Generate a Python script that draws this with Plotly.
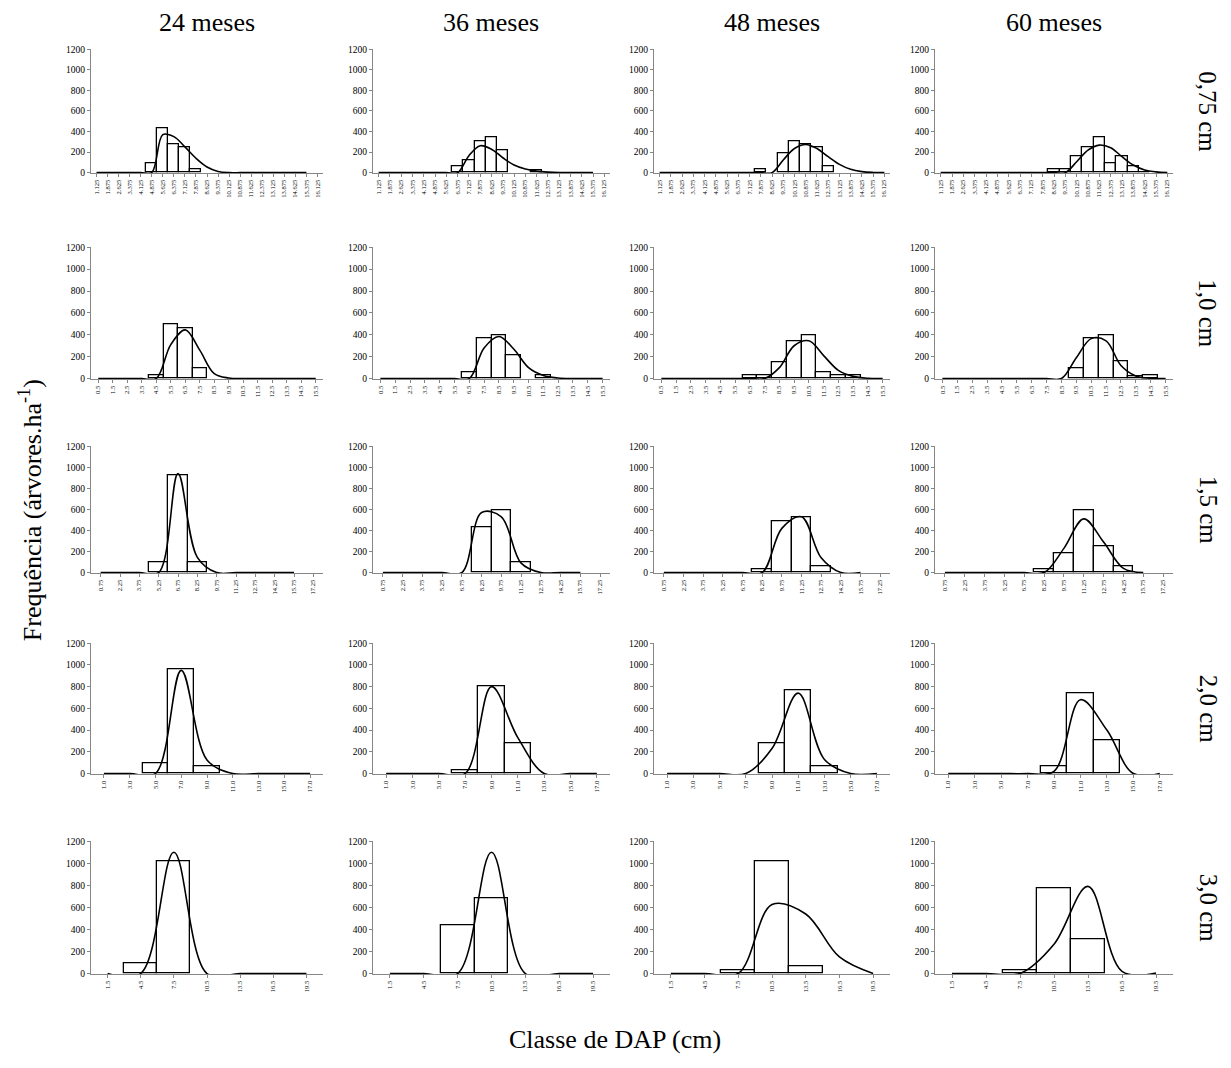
import plotly.graph_objects as go

W, H = 1215, 1052   # figure size (page body has an 8px margin)
OFF = 8
YC, YS = 511, 1.0095  # small vertical stretch correction about the page centre

FONT = "Liberation Serif, Times New Roman, serif"
N = None

months = ["24 meses", "36 meses", "48 meses", "60 meses"]
spacings = ["0,75 cm", "1,0 cm", "1,5 cm", "2,0 cm", "3,0 cm"]

# ---- category labels per row ----
cats_075 = ["1.125", "1.875", "2.625", "3.375", "4.125", "4.875", "5.625", "6.375", "7.125",
            "7.875", "8.625", "9.375", "10.125", "10.875", "11.625", "12.375", "13.125",
            "13.875", "14.625", "15.375", "16.125"]
cats_10 = ["0.5", "1.5", "2.5", "3.5", "4.5", "5.5", "6.5", "7.5", "8.5", "9.5", "10.5",
           "11.5", "12.5", "13.5", "14.5", "15.5"]
cats_15 = ["0.75", "2.25", "3.75", "5.25", "6.75", "8.25", "9.75", "11.25", "12.75",
           "14.25", "15.75", "17.25"]
cats_20 = ["1.0", "3.0", "5.0", "7.0", "9.0", "11.0", "13.0", "15.0", "17.0"]
cats_30 = ["1.5", "4.5", "7.5", "10.5", "13.5", "16.5", "19.5"]

# ---- observed frequencies (bars) and fitted curves ----
# 0,75 cm
obs_075_24 = [N, N, N, N, N, 95, 430, 280, 245, 30, N, N, N, N, N, N, N, N, N, N, N]
fit_075_24 = [0, 0, 0, 0, 0, 0, 370, 350, 250, 140, 55, 12, 0, 0, 0, 0, 0, 0, 0, 0, N]
obs_075_36 = [N, N, N, N, N, N, N, 60, 120, 305, 340, 215, N, N, 25, N, N, N, N, N, N]
fit_075_36 = [0, 0, 0, 0, 0, 0, 0, 0, 165, 262, 228, 145, 74, 35, 15, 5, 0, 0, 0, 0, N]
obs_075_48 = [N, N, N, N, N, N, N, N, N, 30, N, 185, 310, 275, 250, 62, N, N, N, N, N]
fit_075_48 = [0, 0, 0, 0, 0, 0, 0, 0, 0, 0, 0, 123, 235, 274, 235, 155, 80, 32, 10, 2, 0]
obs_075_60 = [N, N, N, N, N, N, N, N, N, N, 30, 30, 155, 245, 340, 90, 155, 60, 8, N, N]
fit_075_60 = [0, 0, 0, 0, 0, 0, 0, 0, 0, 0, 0, 0, 106, 219, 268, 242, 155, 74, 26, 7, 0]
# 1,0 cm
obs_10_24 = [N, N, N, N, 30, 495, 460, 92, N, N, N, N, N, N, N, N]
fit_10_24 = [0, 0, 0, 0, 0, 310, 445, 260, 45, 5, 0, 0, 0, 0, 0, 0]
obs_10_36 = [N, N, N, N, N, N, 60, 370, 400, 215, N, 30, N, N, N, N]
fit_10_36 = [0, 0, 0, 0, 0, 0, 0, 280, 385, 270, 100, 28, 5, 0, 0, 0]
obs_10_48 = [N, N, N, N, N, N, 30, 30, 150, 338, 400, 60, 30, 30, N, N]
fit_10_48 = [0, 0, 0, 0, 0, 0, 0, 0, 100, 300, 345, 210, 75, 20, 2, 0]
obs_10_60 = [N, N, N, N, N, N, N, N, N, 90, 370, 400, 155, 25, 30, N]
fit_10_60 = [0, 0, 0, 0, 0, 0, 0, 0, 0, 190, 365, 345, 120, 24, 3, 0]
# 1,5 cm
obs_15_24 = [N, N, N, 95, 925, 95, N, N, N, N, N, N]
fit_15_24 = [0, 0, 0, 0, 940, 145, 0, 0, 0, 0, 0, N]
obs_15_36 = [N, N, N, N, N, 435, 590, 95, N, N, N, N]
fit_15_36 = [0, 0, 0, 0, 0, 570, 530, 90, 0, 0, 0, N]
obs_15_48 = [N, N, N, N, N, 30, 490, 525, 60, N, N, N]
fit_15_48 = [0, 0, 0, 0, 0, 0, 420, 530, 140, 0, 0, N]
obs_15_60 = [N, N, N, N, N, 30, 185, 590, 250, 60, N, N]
fit_15_60 = [0, 0, 0, 0, 0, 0, 230, 510, 290, 40, 0, N]
# 2,0 cm
obs_20_24 = [N, N, 95, 960, 65, N, N, N, N]
fit_20_24 = [0, 0, 0, 950, 125, 0, 0, 0, 0]
obs_20_36 = [N, N, N, 30, 800, 280, N, N, N]
fit_20_36 = [0, 0, 0, 0, 800, 330, 0, 0, 0]
obs_20_48 = [N, N, N, N, 280, 770, 65, N, N]
fit_20_48 = [0, 0, 0, 0, 230, 740, 130, 0, 0]
obs_20_60 = [N, N, N, N, 65, 740, 310, N, N]
fit_20_60 = [0, 0, 0, 0, 20, 680, 400, 0, 0]
# 3,0 cm
obs_30_24 = [N, 95, 1020, N, N, N, N]
fit_30_24 = [0, 0, 1100, 0, 0, 0, 0]
obs_30_36 = [N, N, 435, 685, N, N, N]
fit_30_36 = [0, 0, 0, 1100, 0, 0, 0]
obs_30_48 = [N, N, 30, 1020, 65, N, N]
fit_30_48 = [0, 0, 0, 625, 540, 150, 0]
obs_30_60 = [N, N, 30, 770, 310, N, N]
fit_30_60 = [0, 0, 0, 265, 790, 20, 5]

y_ticks = [0, 200, 400, 600, 800, 1000, 1200]

rows = [
    (cats_075, [(obs_075_24, fit_075_24), (obs_075_36, fit_075_36), (obs_075_48, fit_075_48), (obs_075_60, fit_075_60)]),
    (cats_10, [(obs_10_24, fit_10_24), (obs_10_36, fit_10_36), (obs_10_48, fit_10_48), (obs_10_60, fit_10_60)]),
    (cats_15, [(obs_15_24, fit_15_24), (obs_15_36, fit_15_36), (obs_15_48, fit_15_48), (obs_15_60, fit_15_60)]),
    (cats_20, [(obs_20_24, fit_20_24), (obs_20_36, fit_20_36), (obs_20_48, fit_20_48), (obs_20_60, fit_20_60)]),
    (cats_30, [(obs_30_24, fit_30_24), (obs_30_36, fit_30_36), (obs_30_48, fit_30_48), (obs_30_60, fit_30_60)]),
]

# ---- layout geometry in screen pixels ----
col_left = [91, 373, 654, 935]
col_right = [323, 610, 890, 1173]
row_top = [49, 247, 446, 643, 841]
row_bot = [173, 379, 573, 774, 974]


def px_x(x):
    return (x - OFF) / W


def px_y(y, stretch=True):
    if stretch:
        y = YC + (y - YC) * YS
    return 1 - (y - OFF) / H


fig = go.Figure()
layout = {}
AXC = "#868686"
k = 0
for r, (cats, panels) in enumerate(rows):
    n = len(cats)
    for c, (obs, fit) in enumerate(panels):
        k += 1
        sx = "" if k == 1 else str(k)
        fig.add_trace(go.Bar(
            x=cats, y=obs, xaxis="x" + sx, yaxis="y" + sx,
            marker=dict(color="white", line=dict(color="black", width=1.3)),
            width=1.0, showlegend=False, hoverinfo="skip"))
        fig.add_trace(go.Scatter(
            x=cats, y=fit, xaxis="x" + sx, yaxis="y" + sx, mode="lines",
            line=dict(color="black", width=1.6, shape="spline", smoothing=1.0),
            connectgaps=False, showlegend=False, hoverinfo="skip"))
        layout["xaxis" + sx] = dict(
            domain=[px_x(col_left[c]), px_x(col_right[c])], anchor="y" + sx,
            type="category", categoryorder="array", categoryarray=cats,
            range=[-0.5, n - 0.5], tickangle=-90, showline=True, linecolor=AXC,
            linewidth=1, ticks="outside", ticklen=3, tickcolor=AXC,
            tickfont=dict(family=FONT, size=6.5, color="black"),
            showgrid=False, zeroline=False, fixedrange=True)
        layout["yaxis" + sx] = dict(
            domain=[px_y(row_bot[r]), px_y(row_top[r])], anchor="x" + sx,
            range=[-6, 1200], tickvals=y_ticks, showline=True, linecolor=AXC,
            linewidth=1, ticks="outside", ticklen=3, tickcolor=AXC,
            tickfont=dict(family=FONT, size=9.5, color="black"),
            showgrid=False, zeroline=False, fixedrange=True)

annotations = []
for c, m in enumerate(months):
    annotations.append(dict(
        text=m, x=px_x((col_left[c] + col_right[c]) / 2), y=px_y(22),
        xref="paper", yref="paper", showarrow=False, xanchor="center", yanchor="middle",
        font=dict(family=FONT, size=26, color="black")))
for r, s in enumerate(spacings):
    annotations.append(dict(
        text=s, x=px_x(1208), y=px_y((row_top[r] + row_bot[r]) / 2),
        xref="paper", yref="paper", showarrow=False, xanchor="center", yanchor="middle",
        textangle=90, font=dict(family=FONT, size=25, color="black")))
annotations.append(dict(
    text="Frequência (árvores.ha<sup>-1</sup>)", x=px_x(30), y=px_y(510),
    xref="paper", yref="paper", showarrow=False, xanchor="center", yanchor="middle",
    textangle=-90, font=dict(family=FONT, size=26, color="black")))
annotations.append(dict(
    text="Classe de DAP (cm)", x=px_x(615), y=px_y(1044, stretch=False),
    xref="paper", yref="paper", showarrow=False, xanchor="center", yanchor="middle",
    font=dict(family=FONT, size=26, color="black")))

fig.update_layout(
    width=W, height=H, margin=dict(l=0, r=0, t=0, b=0),
    paper_bgcolor="white", plot_bgcolor="white",
    bargap=0, annotations=annotations, **layout)

fig.write_html("out.html")
